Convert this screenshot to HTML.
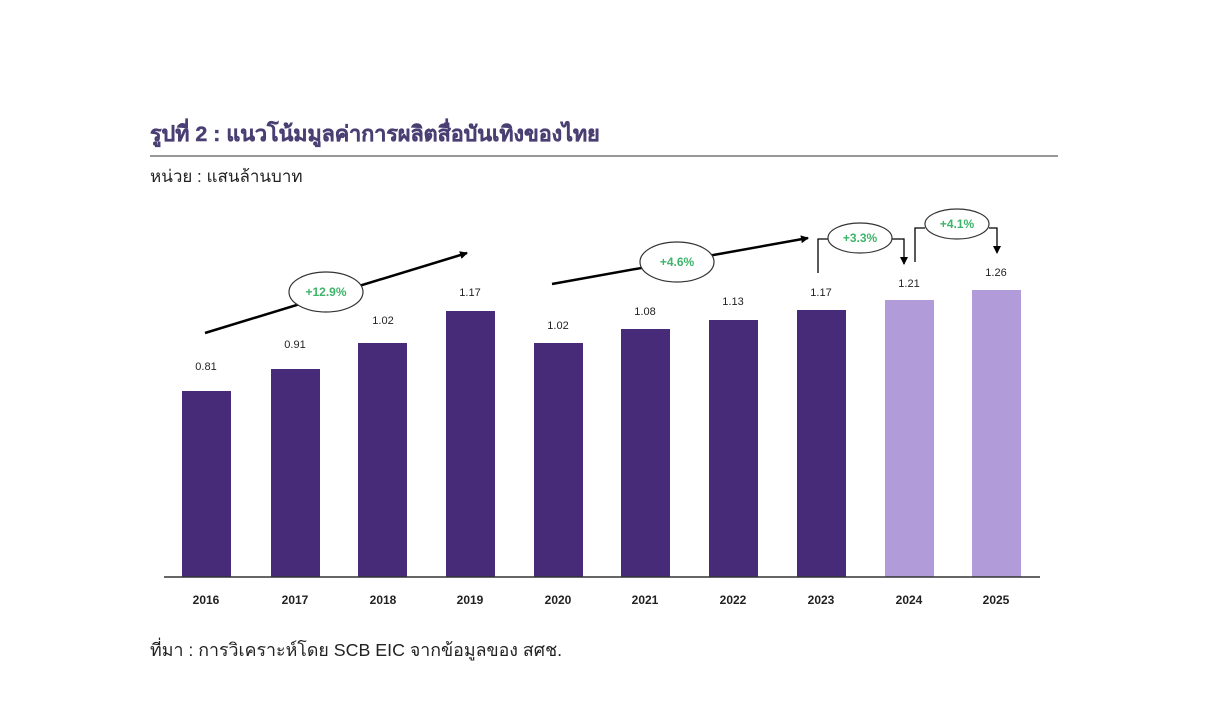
<!DOCTYPE html>
<html><head><meta charset="utf-8"><style>
body{margin:0;background:#fff;width:1209px;height:708px;overflow:hidden;font-family:"Liberation Sans","Noto Sans CJK SC",sans-serif}
</style></head><body>
<svg width="1209" height="708" xmlns="http://www.w3.org/2000/svg" style="position:absolute;left:0;top:0">
<defs><marker id="ah" markerWidth="8" markerHeight="8" refX="7" refY="4" orient="auto" markerUnits="userSpaceOnUse"><path d="M0,0 L8,4 L0,8 z" fill="#000"/></marker></defs>
<text x="150" y="141" font-size="21.5" font-weight="bold" fill="#4a3f73" stroke="#4a3f73" stroke-width="0.4" font-family="Liberation Sans,Noto Sans CJK SC,sans-serif">รูปที่ 2 : แนวโน้มมูลค่าการผลิตสื่อบันเทิงของไทย</text>
<line x1="150" y1="156" x2="1058" y2="156" stroke="#777" stroke-width="1.5"/>
<text x="150" y="182" font-size="17" fill="#222">หน่วย : แสนล้านบาท</text>
<g font-size="11" fill="#222" text-anchor="middle">
<rect x="182" y="391" width="49" height="186" fill="#472b78"/><text x="206" y="370">0.81</text>
<rect x="271" y="369" width="49" height="208" fill="#472b78"/><text x="295" y="348">0.91</text>
<rect x="358" y="343" width="49" height="234" fill="#472b78"/><text x="383" y="324">1.02</text>
<rect x="446" y="311" width="49" height="266" fill="#472b78"/><text x="470" y="296">1.17</text>
<rect x="534" y="343" width="49" height="234" fill="#472b78"/><text x="558" y="329">1.02</text>
<rect x="621" y="329" width="49" height="248" fill="#472b78"/><text x="645" y="315">1.08</text>
<rect x="709" y="320" width="49" height="257" fill="#472b78"/><text x="733" y="305">1.13</text>
<rect x="797" y="310" width="49" height="267" fill="#472b78"/><text x="821" y="296">1.17</text>
<rect x="885" y="300" width="49" height="277" fill="#b19bd8"/><text x="909" y="287">1.21</text>
<rect x="972" y="290" width="49" height="287" fill="#b19bd8"/><text x="996" y="276">1.26</text>
</g>
<line x1="164" y1="577" x2="1040" y2="577" stroke="#333" stroke-width="1.5"/>
<g font-size="12" font-weight="bold" fill="#222" text-anchor="middle">
<text x="206" y="604">2016</text><text x="295" y="604">2017</text><text x="383" y="604">2018</text><text x="470" y="604">2019</text><text x="558" y="604">2020</text><text x="645" y="604">2021</text><text x="733" y="604">2022</text><text x="821" y="604">2023</text><text x="909" y="604">2024</text><text x="996" y="604">2025</text>
</g>
<g stroke="#000" fill="none">
<line x1="205" y1="333" x2="467" y2="253" stroke-width="2.5" marker-end="url(#ah)"/>
<line x1="552" y1="284" x2="808" y2="238" stroke-width="2.5" marker-end="url(#ah)"/>
<polyline points="818,273 818,239 828,239" stroke-width="1.3"/>
<polyline points="892,239 904,239 904,264" stroke-width="1.3" marker-end="url(#ah)"/>
<polyline points="915,262 915,228 925,228" stroke-width="1.3"/>
<polyline points="989,228 997,228 997,253" stroke-width="1.3" marker-end="url(#ah)"/>
</g>
<g fill="#fff" stroke="#333" stroke-width="1.2">
<ellipse cx="326" cy="292" rx="37" ry="20"/>
<ellipse cx="677" cy="262" rx="37" ry="20"/>
<ellipse cx="860" cy="238" rx="32" ry="15"/>
<ellipse cx="957" cy="224" rx="32" ry="15"/>
</g>
<g font-size="12" font-weight="bold" fill="#3db46a" text-anchor="middle">
<text x="326" y="296">+12.9%</text><text x="677" y="266">+4.6%</text><text x="860" y="242">+3.3%</text><text x="957" y="228">+4.1%</text>
</g>
<text x="150" y="656" font-size="17.8" fill="#222">ที่มา : การวิเคราะห์โดย SCB EIC จากข้อมูลของ สศช.</text>
</svg>
</body></html>
